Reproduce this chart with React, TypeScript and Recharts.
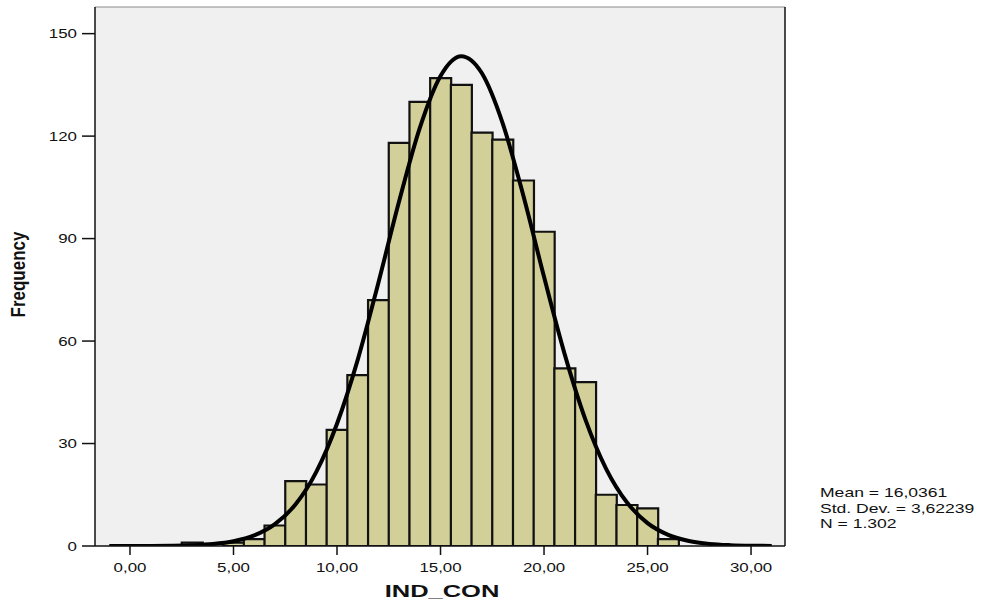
import React from 'react';
import { ComposedChart, Bar, Line, XAxis, YAxis, CartesianGrid, ReferenceLine } from 'recharts';

// histogram bins (centre of each bin) and their counts
const binCenters = [3, 4, 5, 6, 7, 8, 9, 10, 11, 12, 13, 14, 15, 16, 17, 18, 19, 20, 21, 22, 23, 24, 25, 26];
const binCounts = [1, 0, 1, 2, 6, 19, 18, 34, 50, 72, 118, 130, 137, 135, 121, 119, 107, 92, 52, 48, 15, 12, 11, 2];

// normal curve at each whole value
const curveX = [-1, 0, 1, 2, 3, 4, 5, 6, 7, 8, 9, 10, 11, 12, 13, 14, 15, 16, 17, 18, 19, 20, 21, 22, 23, 24, 25, 26, 27, 28, 29, 30, 31];
const curveY = [0, 0.01, 0.03, 0.08, 0.22, 0.57, 1.38, 3.09, 6.39, 12.2, 21.7, 35.8, 54.5, 77.1, 100.9, 122.4, 137.6, 143.4, 138.4, 123.8, 102.6, 78.8, 56.1, 37.0, 22.6, 12.8, 6.71, 3.27, 1.47, 0.61, 0.24, 0.08, 0.03];

const xTicks = [0, 5, 10, 15, 20, 25, 30];
const xTickLabels = ['0,00', '5,00', '10,00', '15,00', '20,00', '25,00', '30,00'];
const yTicks = [0, 30, 60, 90, 120, 150];

const xDomain = [-1.69, 31.64];
const yDomain = [0, 157.8];

const statLines = ['Mean = 16,0361', 'Std. Dev. = 3,62239', 'N = 1.302'];

const rows = curveX.map((x, i) => {
  const b = binCenters.indexOf(x);
  const count = b >= 0 && binCounts[b] > 0 ? binCounts[b] : null;
  return { x, curve: curveY[i], count };
});

const FONT = '"Liberation Sans", Arial, sans-serif';

const YTick = ({ x, y, payload }: any) => (
  <g transform={`translate(${x},${y})`}>
    <text textAnchor="end" dy="0.355em" transform="scale(1.3,1)" fontFamily={FONT} fontSize={13} fill="#111">
      {payload.value}
    </text>
  </g>
);

const XTick = ({ x, y, payload }: any) => (
  <g transform={`translate(${x},${y})`}>
    <text textAnchor="middle" dy="0.71em" transform="scale(1.3,1)" fontFamily={FONT} fontSize={13} fill="#111">
      {xTickLabels[xTicks.indexOf(payload.value)]}
    </text>
  </g>
);

const XTitle = ({ viewBox }: any) => (
  <g transform={`translate(${viewBox.x + viewBox.width / 2 + 2},${viewBox.y + 51})`}>
    <text textAnchor="middle" transform="scale(1.5,1)" fontFamily={FONT} fontSize={17} fontWeight="bold" fill="#111">
      IND_CON
    </text>
  </g>
);

const YTitle = ({ viewBox }: any) => {
  const cx = viewBox.x + 10;
  const cy = viewBox.y + viewBox.height / 2 - 2;
  return (
    <g transform={`translate(${cx},${cy}) rotate(-90)`}>
      <text textAnchor="middle" transform="scale(1,1.2)" fontFamily={FONT} fontSize={17} fontWeight="bold" fill="#111">
        Frequency
      </text>
    </g>
  );
};

export default function App() {
  return (
    <div style={{ position: 'absolute', left: 0, top: 0, width: 984, height: 602, background: '#fff' }}>
      <ComposedChart
        width={984}
        height={602}
        data={rows}
        barCategoryGap={0}
        margin={{ top: 7, right: 199, bottom: 0, left: 15 }}
      >
        <CartesianGrid horizontal={false} vertical={false} fill="#f0f0f0" />
        <XAxis
          dataKey="x"
          type="number"
          domain={xDomain}
          allowDataOverflow
          ticks={xTicks}
          height={56}
          tickSize={9}
          tickMargin={8}
          tick={<XTick />}
          axisLine={{ stroke: '#111', strokeWidth: 1.5 }}
          tickLine={{ stroke: '#111', strokeWidth: 1.5 }}
          label={XTitle}
        />
        <YAxis
          type="number"
          domain={yDomain}
          allowDataOverflow
          ticks={yTicks}
          width={80}
          tickSize={13}
          tickMargin={5}
          tick={<YTick />}
          axisLine={{ stroke: '#111', strokeWidth: 1.5 }}
          tickLine={{ stroke: '#111', strokeWidth: 1.5 }}
          label={YTitle}
        />
        <ReferenceLine y={yDomain[1]} stroke="#8a8a8a" strokeWidth={1} ifOverflow="visible" />
        <ReferenceLine x={xDomain[1]} stroke="#111" strokeWidth={1.5} ifOverflow="visible" />
        <Bar dataKey="count" fill="#d3cf99" stroke="#111" strokeWidth={2.2} isAnimationActive={false} />
        <Line
          dataKey="curve"
          type="monotone"
          stroke="#000"
          strokeWidth={4}
          dot={false}
          activeDot={false}
          isAnimationActive={false}
        />
      </ComposedChart>
      <div style={{ position: 'absolute', left: 820, top: 485, fontFamily: FONT, fontSize: 13, lineHeight: '15.5px', color: '#111' }}>
        {statLines.map((s) => (
          <div key={s} style={{ transform: 'scaleX(1.35)', transformOrigin: 'left', whiteSpace: 'nowrap' }}>
            {s}
          </div>
        ))}
      </div>
    </div>
  );
}
